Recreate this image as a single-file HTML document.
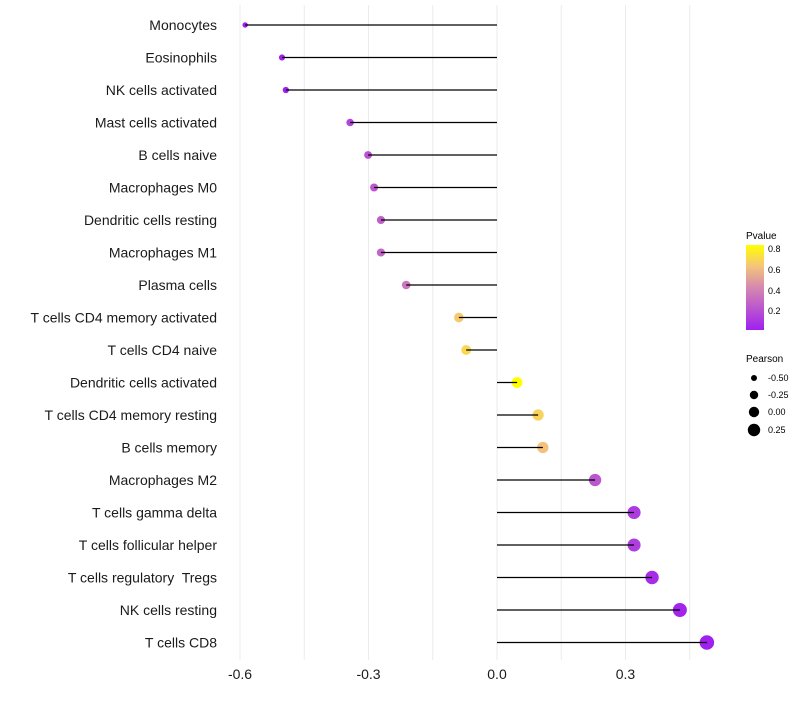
<!DOCTYPE html>
<html><head><meta charset="utf-8"><style>
body{margin:0;background:#fff;font-family:"Liberation Sans",sans-serif}
text{white-space:pre}
</style></head><body>
<svg id="c" width="800" height="700" xmlns="http://www.w3.org/2000/svg">
<defs><linearGradient id="pg" x1="0" y1="1" x2="0" y2="0">
<stop offset="0" stop-color="#A020F0"/><stop offset="0.5" stop-color="#D588B0"/><stop offset="0.75" stop-color="#F4C47A"/><stop offset="1" stop-color="#FFFF00"/></linearGradient></defs>
<g id="grid"></g><g id="marks"></g><g id="axes"></g>
<g font-size="10">
<text x="746" y="239" fill="#000">Pvalue</text>
<rect x="746" y="245" width="18" height="85" fill="url(#pg)"/>
<text x="768" y="252" font-size="9">0.8</text><text x="768" y="273" font-size="9">0.6</text>
<text x="768" y="294" font-size="9">0.4</text><text x="768" y="314" font-size="9">0.2</text>
</g>
<g font-size="10">
<text x="746" y="362">Pearson</text>
<circle cx="754" cy="378" r="3"/><text x="768" y="381" font-size="9">-0.50</text>
<circle cx="754" cy="395" r="4.2"/><text x="768" y="398" font-size="9">-0.25</text>
<circle cx="754" cy="412" r="5.2"/><text x="768" y="415" font-size="9">0.00</text>
<circle cx="754" cy="430" r="6.2"/><text x="768" y="433" font-size="9">0.25</text>
</g>
</svg>
<script>
const categories=["Monocytes","Eosinophils","NK cells activated","Mast cells activated","B cells naive","Macrophages M0","Dendritic cells resting","Macrophages M1","Plasma cells","T cells CD4 memory activated","T cells CD4 naive","Dendritic cells activated","T cells CD4 memory resting","B cells memory","Macrophages M2","T cells gamma delta","T cells follicular helper","T cells regulatory  Tregs","NK cells resting","T cells CD8"];
const pearson=[-0.588,-0.502,-0.493,-0.343,-0.301,-0.287,-0.271,-0.271,-0.212,-0.089,-0.072,0.047,0.096,0.107,0.229,0.320,0.320,0.362,0.427,0.490];
const pvalue=[0.0,0.0,0.0,0.15,0.2,0.22,0.25,0.27,0.35,0.65,0.7,0.84,0.68,0.62,0.22,0.1,0.12,0.05,0.02,0.0];
const xTicks=[-0.6,-0.3,0.0,0.3];
const xTickLabels=["-0.6","-0.3","0.0","0.3"];
const NS="http://www.w3.org/2000/svg";
const x=v=>497+v*428.3;
const y=i=>25+i*32.5;
function mk(t,a,p){const e=document.createElementNS(NS,t);for(const k in a)e.setAttribute(k,a[k]);p.appendChild(e);return e;}
function lerp(a,b,t){return a+(b-a)*t}
function col(p){const s=[[0,[160,32,240]],[0.42,[213,136,176]],[0.63,[244,196,122]],[0.84,[255,255,0]]];
let t=Math.min(Math.max(p,0),0.84);for(let i=0;i<s.length-1;i++){if(t<=s[i+1][0]){const f=(t-s[i][0])/(s[i+1][0]-s[i][0]);const c=s[i][1].map((v,j)=>Math.round(lerp(v,s[i+1][1][j],f)));return `rgb(${c})`;}}return "rgb(255,255,0)";}
const rad=v=>Math.max(1.5,5.2+v*4.2);
const g=document.getElementById('grid'),m=document.getElementById('marks'),ax=document.getElementById('axes');
[-0.6,-0.45,-0.3,-0.15,0,0.15,0.3,0.45].forEach(v=>{const l=mk('line',{x1:x(v),x2:x(v),y1:5,y2:660,stroke:'#ebebeb','stroke-width':1},g);

});
categories.forEach((c,i)=>{
const t=mk('text',{x:217,y:y(i)+5,'text-anchor':'end','font-size':14,fill:'#1a1a1a'},ax);t.textContent=c;


const pt=mk('circle',{cx:x(pearson[i]),cy:y(i),r:rad(pearson[i]),fill:col(pvalue[i])},m);


const ln=mk('line',{x1:x(0),x2:x(pearson[i]),y1:y(i),y2:y(i),stroke:'#000','stroke-width':1.2},m);


});
xTicks.forEach((v,i)=>{const t=mk('text',{x:x(v),y:679,'text-anchor':'middle','font-size':14,fill:'#1a1a1a'},ax);t.textContent=xTickLabels[i];

});
</script>
</body></html>
